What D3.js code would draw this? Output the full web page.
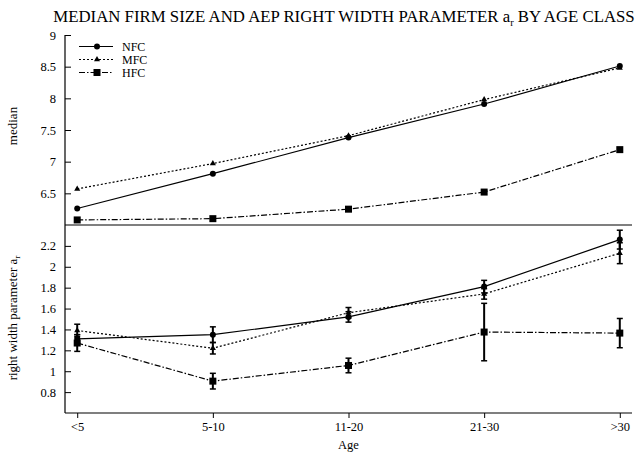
<!DOCTYPE html>
<html>
<head>
<meta charset="utf-8">
<script src="https://cdn.jsdelivr.net/npm/d3@7"></script>
<style>
  body { margin: 0; background: #fff; }
  svg { font-family: "Liberation Serif", "DejaVu Serif", serif; }
</style>
</head>
<body>
<script>
// Age classes
const ages = ['<5', '5-10', '11-20', '21-30', '>30'];

// Median firm size (top panel)
const medianNFC = [6.26, 6.81, 7.38, 7.91, 8.51];
const medianMFC = [6.57, 6.97, 7.41, 7.98, 8.48];
const medianHFC = [6.08, 6.10, 6.25, 6.52, 7.19];

// Right width parameter a_r (bottom panel) and error bar half widths
const arNFC = [1.31, 1.35, 1.52, 1.81, 2.26];
const arMFC = [1.39, 1.22, 1.56, 1.74, 2.13];
const arHFC = [1.27, 0.905, 1.055, 1.375, 1.365];
const errNFC = [0.04, 0.075, 0.05, 0.06, 0.09];
const errMFC = [0.06, 0.055, 0.05, 0.05, 0.10];
const errHFC = [0.08, 0.075, 0.07, 0.275, 0.14];

const topTicks = [6.5, 7, 7.5, 8, 8.5, 9];
const bottomTicks = [0.8, 1, 1.2, 1.4, 1.6, 1.8, 2, 2.2];

const series = [
  { name: 'NFC', median: medianNFC, ar: arNFC, err: errNFC, dash: null, marker: 'circle' },
  { name: 'MFC', median: medianMFC, ar: arMFC, err: errMFC, dash: '2,2', marker: 'triangle' },
  { name: 'HFC', median: medianHFC, ar: arHFC, err: errHFC, dash: '6,2,1.5,2', marker: 'square' }
];

const w = 637, h = 452;
const left = 65, right = 632;
const topY0 = 35, midY = 225, botY = 413;
const FONT = '"Liberation Serif", "DejaVu Serif", serif';

const svg = d3.select('body').append('svg')
  .attr('width', w)
  .attr('height', h);

const x = d3.scalePoint()
  .domain(ages)
  .range([left, right])
  .padding(0.09);

const yTop = d3.scaleLinear().domain([6, 9]).range([midY, topY0]);
const yBot = d3.scaleLinear().domain([0.6, 2.4]).range([botY, midY]);

function drawMarker(g, type, cx, cy) {
  if (type === 'circle') {
    g.append('circle').attr('cx', cx).attr('cy', cy).attr('r', 3).attr('fill', '#000');
  } else if (type === 'triangle') {
    g.append('path')
      .attr('d', d3.symbol(d3.symbolTriangle, 16)())
      .attr('transform', `translate(${cx},${cy})`)
      .attr('fill', '#000');
  } else {
    g.append('rect').attr('x', cx - 3.5).attr('y', cy - 3.5)
      .attr('width', 7).attr('height', 7).attr('fill', '#000');
  }
}

// Axes
const yAxisTop = d3.axisLeft(yTop).tickValues(topTicks).tickFormat(d3.format('')).tickSizeInner(-6).tickSizeOuter(0).tickPadding(9);
const yAxisBot = d3.axisLeft(yBot).tickValues(bottomTicks).tickFormat(d3.format('')).tickSizeInner(-6).tickSizeOuter(0).tickPadding(9);

svg.append('g')
  .attr('transform', `translate(${left},0)`)
  .call(yAxisTop)
  .call(g => g.select('.domain').remove());

svg.append('g')
  .attr('transform', `translate(${left},0)`)
  .call(yAxisBot)
  .call(g => g.select('.domain').remove());

svg.append('g')
  .attr('transform', `translate(0,${botY})`)
  .call(d3.axisBottom(x).tickSizeInner(5).tickSizeOuter(0).tickPadding(4))
  .call(g => g.select('.domain').remove());

svg.selectAll('.tick text')
  .attr('font-size', 12.5)
  .attr('font-family', FONT);

// Frame lines
svg.append('line').attr('x1', left).attr('x2', left).attr('y1', topY0).attr('y2', botY).attr('stroke', '#000').attr('stroke-width', 1.2);
svg.append('line').attr('x1', left).attr('x2', right).attr('y1', midY).attr('y2', midY).attr('stroke', '#000').attr('stroke-width', 1.2);
svg.append('line').attr('x1', left).attr('x2', right).attr('y1', botY).attr('y2', botY).attr('stroke', '#000').attr('stroke-width', 1.2);

// Top panel lines
series.forEach(s => {
  const line = d3.line().x((d, i) => x(ages[i])).y(d => yTop(d));
  svg.append('path')
    .attr('d', line(s.median))
    .attr('fill', 'none')
    .attr('stroke', '#000')
    .attr('stroke-width', 1.2)
    .attr('stroke-dasharray', s.dash);
  const g = svg.append('g');
  s.median.forEach((v, i) => drawMarker(g, s.marker, x(ages[i]), yTop(v)));
});

// Bottom panel lines with error bars
series.forEach(s => {
  const line = d3.line().x((d, i) => x(ages[i])).y(d => yBot(d));
  svg.append('path')
    .attr('d', line(s.ar))
    .attr('fill', 'none')
    .attr('stroke', '#000')
    .attr('stroke-width', 1.2)
    .attr('stroke-dasharray', s.dash);
  const g = svg.append('g');
  s.ar.forEach((v, i) => {
    const cx = x(ages[i]);
    const y1 = yBot(v + s.err[i]), y2 = yBot(v - s.err[i]);
    g.append('line').attr('x1', cx).attr('x2', cx).attr('y1', y1).attr('y2', y2)
      .attr('stroke', '#000').attr('stroke-width', 2);
    [y1, y2].forEach(yy => g.append('line')
      .attr('x1', cx - 3).attr('x2', cx + 3).attr('y1', yy).attr('y2', yy)
      .attr('stroke', '#000').attr('stroke-width', 1.5));
    drawMarker(g, s.marker, cx, yBot(v));
  });
});

// Legend
const legend = svg.append('g');
series.forEach((s, i) => {
  const ly = 46.5 + i * 13;
  legend.append('line').attr('x1', 79).attr('x2', 113).attr('y1', ly).attr('y2', ly)
    .attr('stroke', '#000').attr('stroke-width', 1.2).attr('stroke-dasharray', s.dash);
  drawMarker(legend, s.marker, 97, ly);
  legend.append('text').attr('x', 122).attr('y', ly + 4)
    .attr('font-size', 12).text(s.name);
});

// Title
const title = svg.append('text')
  .attr('x', 344)
  .attr('y', 22)
  .attr('text-anchor', 'middle')
  .attr('font-size', 16.8);
title.append('tspan').text('MEDIAN FIRM SIZE AND AEP RIGHT WIDTH PARAMETER a');
title.append('tspan').attr('font-size', 10.5).attr('dy', 4).text('r');
title.append('tspan').attr('dy', -4).text(' BY AGE CLASS');

// Axis labels
svg.append('text')
  .attr('transform', `translate(17,126) rotate(-90)`)
  .attr('text-anchor', 'middle')
  .attr('font-size', 13)
  .text('median');

const ylab = svg.append('text')
  .attr('transform', `translate(17,318) rotate(-90)`)
  .attr('text-anchor', 'middle')
  .attr('font-size', 13);
ylab.append('tspan').text('right width parameter a');
ylab.append('tspan').attr('font-size', 9).attr('dy', 3).text('r');

svg.append('text')
  .attr('x', x('11-20'))
  .attr('y', 449)
  .attr('text-anchor', 'middle')
  .attr('font-size', 12.5)
  .text('Age');
</script>
</body>
</html>
